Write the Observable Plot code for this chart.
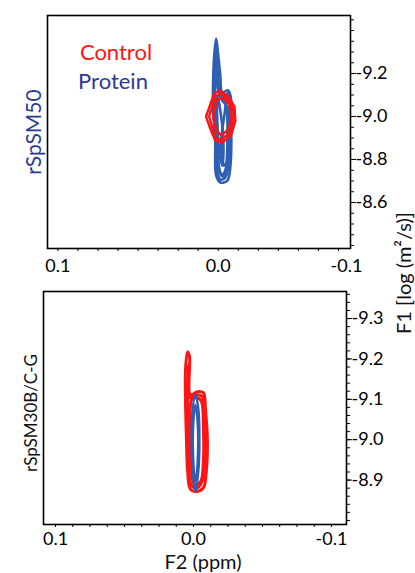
<!DOCTYPE html>
<html><head><meta charset="utf-8">
<script src="https://cdn.jsdelivr.net/npm/d3@7"></script>
<script src="https://cdn.jsdelivr.net/npm/@observablehq/plot@0.6"></script>
<style>
body{margin:0;background:#fff;font-family:Lato,"Open Sans",sans-serif}
#wrap{position:relative;width:415px;height:573px;overflow:hidden}
.pl{position:absolute;left:0}
.lab{position:absolute;white-space:nowrap;transform:translate(-50%,-50%);line-height:1}
.rot{transform:translate(-50%,-50%) rotate(-90deg)}
</style></head>
<body><div id="wrap"></div>
<script>
// ---------- data ----------
const colorControl = "#ff1414";
const colorProtein = "#2f5fb3";
const panelNames = ["rSpSM50", "rSpSM30B/C-G"];
const legendLabels = ["Control", "Protein"];
const xTitle = "F2 (ppm)";
const yTitle = "F1 [log (m²/s)]";

// top panel axes
const topXTickValues = [0.1, 0.0, -0.08];
const topXTickLabels = ["0.1", "0.0", "-0.1"];
const topYTickValues = [-9.2, -9.0, -8.8, -8.6];
const topYTickLabels = ["-9.2", "-9.0", "-8.8", "-8.6"];
// bottom panel axes
const botXTickValues = [0.1, 0.0, -0.1];
const botXTickLabels = ["0.1", "0.0", "-0.1"];
const botYTickValues = [-9.3, -9.2, -9.1, -9.0, -8.9];
const botYTickLabels = ["-9.3", "-9.2", "-9.1", "-9.0", "-8.9"];

// contours [ppm, logD]
const topProtein = [
  [[0.0013,-9.363],[0,-9.284],[-0.0013,-9.191],[-0.0025,-9.112],[-0.0057,-9.121],[-0.0076,-9.098],[-0.0082,-8.935],[-0.0076,-8.772],[-0.0057,-8.702],[-0.0013,-8.693],[0.0013,-8.726],[0.0019,-8.888],[0.0032,-9.028],[0.0032,-9.167],[0.0025,-9.284]],
  [[0.0013,-9.330],[0.0006,-9.237],[-0.0006,-9.130],[-0.0038,-9.098],[-0.0063,-9.074],[-0.0069,-8.935],[-0.0063,-8.772],[-0.0044,-8.716],[-0.0013,-8.707],[0.0006,-8.749],[0.0013,-8.888],[0.0025,-9.028],[0.0025,-9.167],[0.0019,-9.260]],
  [[0.0013,-9.300],[0.0003,-9.200],[-0.0015,-9.100],[-0.0045,-9.060],[-0.0060,-8.950],[-0.0055,-8.780],[-0.0030,-8.720],[-0.0005,-8.760],[0.0010,-8.900],[0.0022,-9.050],[0.0022,-9.200]],
  [[0.0013,-9.260],[0,-9.121],[-0.0025,-9.074],[-0.0050,-9.051],[-0.0057,-8.888],[-0.0044,-8.749],[-0.0019,-8.726],[0,-8.795],[0.0006,-8.935],[0.0019,-9.074],[0.0019,-9.191]],
  [[-0.0063,-9.121],[-0.0069,-9.112],[-0.0069,-8.935],[-0.0057,-8.795],[-0.0032,-8.772],[-0.0019,-8.888],[-0.0038,-9.005]],
  [[0.0006,-9.098],[-0.0013,-9.028],[-0.0032,-8.888],[-0.0025,-8.772],[-0.0006,-8.842],[0.0006,-8.981]]
];
const topControl = [
  [[0.0076,-9.0],[0.0025,-9.107],[-0.0013,-9.121],[-0.0063,-9.093],[-0.0101,-9.047],[-0.0107,-8.981],[-0.0082,-8.916],[-0.0025,-8.879],[0.0019,-8.888],[0.0050,-8.944]],
  [[0.0057,-9.0],[0.0019,-9.093],[-0.0019,-9.107],[-0.0069,-9.074],[-0.0095,-9.028],[-0.0095,-8.972],[-0.0069,-8.921],[-0.0019,-8.893],[0.0019,-8.902]],
  [[0.0032,-9.0],[0.0006,-9.079],[-0.0032,-9.088],[-0.0069,-9.056],[-0.0082,-9.0],[-0.0063,-8.940],[-0.0019,-8.912],[0.0013,-8.935]]
];
const botControl = [
  [[0.0043,-9.217],[0.0029,-9.207],[0.0022,-9.111],[-0.0029,-9.119],[-0.0072,-9.116],[-0.0087,-9.074],[-0.0101,-9.0],[-0.0094,-8.926],[-0.0072,-8.881],[-0.0022,-8.872],[0.0022,-8.877],[0.0043,-8.926],[0.0051,-9.0],[0.0058,-9.099],[0.0058,-9.173]],
  [[0.0036,-9.185],[0.0029,-9.104],[-0.0022,-9.111],[-0.0065,-9.106],[-0.0080,-9.049],[-0.0087,-8.975],[-0.0072,-8.906],[-0.0029,-8.881],[0.0014,-8.886],[0.0036,-8.951],[0.0043,-9.049],[0.0043,-9.123]],
  [[0.0014,-9.099],[-0.0029,-9.104],[-0.0058,-9.094],[-0.0072,-9.025],[-0.0072,-8.951],[-0.0051,-8.896],[-0.0007,-8.889],[0.0022,-8.951],[0.0029,-9.025],[0.0022,-9.086]]
];
const botProtein = [
  [[-0.0014,-9.111],[-0.0036,-9.074],[-0.0043,-9.0],[-0.0036,-8.926],[-0.0014,-8.872],[0.0007,-8.926],[0.0014,-9.0],[0.0007,-9.074]],
  [[-0.0014,-9.086],[-0.0029,-9.049],[-0.0029,-8.938],[-0.0014,-8.896],[0,-8.938],[0,-9.049]]
];

// ---------- helpers ----------
const rows = (contours) => contours.flatMap((c, id) => c.map(([x, y]) => ({x, y, id})));
const fmt = (vals, labs) => { const m = new Map(vals.map((v, i) => [v, labs[i]])); return d => m.get(d) ?? ""; };
const minor = (a, b, step) => d3.range(Math.round((b - a) / step) + 1).map(i => +(a + i * step).toFixed(4));

function panel({width, height, margins, xDomain, yDomain, xTicks, xLabels, yTicks, yLabels, xMinor, yMinor, layers, xPad}) {
  return Plot.plot({
    width, height,
    marginTop: margins[0], marginRight: margins[1], marginBottom: margins[2], marginLeft: margins[3],
    x: {domain: xDomain, axis: null},
    y: {domain: yDomain, reverse: true, axis: null},
    style: {fontFamily: "Lato, 'Open Sans', sans-serif", fontSize: "18px", color: "black", background: "transparent", overflow: "visible"},
    marks: [
      ...layers,
      Plot.axisX(xMinor, {anchor: "bottom", tickSize: 3, tickFormat: () => "", label: null, strokeWidth: 1}),
      Plot.axisX(xTicks, {anchor: "bottom", tickSize: 0, tickPadding: xPad, tickFormat: fmt(xTicks, xLabels), label: null, fontSize: 18}),
      Plot.axisY(yMinor, {anchor: "right", tickSize: 3, tickFormat: () => "", label: null, strokeWidth: 1}),
      Plot.axisY(yTicks, {anchor: "right", tickSize: 5, tickPadding: 0, tickFormat: fmt(yTicks, yLabels), label: null, fontSize: 18}),
      Plot.frame({stroke: "black", strokeWidth: 1.6})
    ]
  });
}

const topPlot = panel({
  width: 415, height: 280, margins: [15, 65, 32, 47],
  xDomain: [0.1065, -0.0825], yDomain: [-9.47, -8.386],
  xTicks: topXTickValues, xLabels: topXTickLabels, yTicks: topYTickValues, yLabels: topYTickLabels,
  xMinor: minor(-0.075, 0.1, 0.0125), yMinor: minor(-9.45, -8.4, 0.05), xPad: 11,
  layers: [
    Plot.line(rows(topProtein), {x: "x", y: "y", z: "id", stroke: colorProtein, strokeWidth: 2.6, curve: "catmull-rom-closed"}),
    Plot.line(rows(topControl), {x: "x", y: "y", z: "id", stroke: colorControl, strokeWidth: 2.4, curve: "linear-closed", strokeLinejoin: "round"})
  ]
});
const botPlot = panel({
  width: 415, height: 293, margins: [11, 69, 49, 43],
  xDomain: [0.1087, -0.1109], yDomain: [-9.367, -8.79],
  xTicks: botXTickValues, xLabels: botXTickLabels, yTicks: botYTickValues, yLabels: botYTickLabels,
  xMinor: minor(-0.1, 0.1, 0.0125), yMinor: minor(-9.36, -8.8, 0.02), xPad: 8,
  layers: [
    Plot.line(rows(botControl), {x: "x", y: "y", z: "id", stroke: colorControl, strokeWidth: 3, curve: "catmull-rom-closed"}),
    Plot.line(rows(botProtein), {x: "x", y: "y", z: "id", stroke: colorProtein, strokeWidth: 2.4, curve: "catmull-rom-closed"})
  ]
});

const wrap = document.getElementById("wrap");
topPlot.classList.add("pl"); topPlot.style.top = "0px";
botPlot.classList.add("pl"); botPlot.style.top = "280px";
wrap.append(topPlot, botPlot);

function label(text, x, y, size, color, rotate) {
  const d = document.createElement("div");
  d.className = "lab" + (rotate ? " rot" : "");
  d.style.left = x + "px"; d.style.top = y + "px";
  d.style.fontSize = size + "px"; d.style.color = color;
  d.textContent = text;
  wrap.append(d);
}
label(legendLabels[0], 116, 52, 22, colorControl, false);
label(legendLabels[1], 113, 81, 22, "#2b3a93", false);
label(panelNames[0], 32, 132, 21, "#2b3a93", true);
label(panelNames[1], 30, 413, 17, "#111", true);
label(xTitle, 203, 561, 20, "#111", false);
label(yTitle, 403, 273, 20, "#111", true);
</script>
</body></html>
